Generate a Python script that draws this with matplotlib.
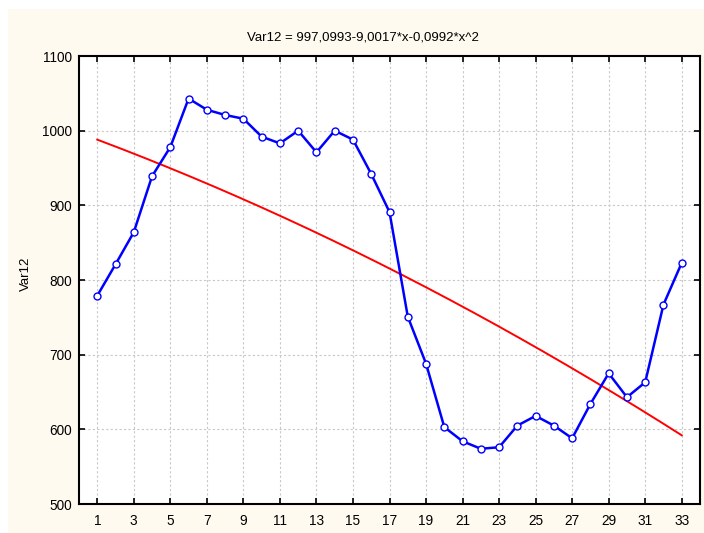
import numpy as np
import matplotlib
matplotlib.use("Agg")
import matplotlib.pyplot as plt
from matplotlib.patches import Rectangle

# ---- data ----
case_numbers = list(range(1, 34))
var12_values = [779, 821, 864, 939, 978, 1043, 1028, 1021, 1016, 992,
                983, 1000, 971, 1000, 988, 942, 891, 751, 688, 603,
                584, 574, 576, 605, 618, 605, 588, 634, 675, 643,
                663, 767, 823]
fit_coeffs = [997.0993, -9.0017, -0.0992]   # a + b*x + c*x^2
x_tick_labels = [str(v) for v in range(1, 34, 2)]
y_ticks = [500, 600, 700, 800, 900, 1000, 1100]
title_text = "Var12 = 997,0993-9,0017*x-0,0992*x^2"
y_label = "Var12"

plt.rcParams['font.family'] = ['Liberation Sans', 'DejaVu Sans']

W, H = 704, 533
fig = plt.figure(figsize=(W / 100, H / 100), dpi=100)
fig.patch.set_facecolor('white')
# cream panel
fig.add_artist(Rectangle((8 / W, 0), 1 - 8 / W, 1 - 9 / H,
                         transform=fig.transFigure, facecolor='#FFFAF0',
                         edgecolor='none', zorder=-10))

ax = fig.add_axes([79 / W, 1 - 504 / H, (700 - 79) / W, (504 - 56) / H])
ax.set_facecolor('white')

xs = np.linspace(case_numbers[0], case_numbers[-1], 200)
fit = fit_coeffs[0] + fit_coeffs[1] * xs + fit_coeffs[2] * xs ** 2
ax.plot(xs, fit, color='#FF0000', lw=1.4, zorder=3)
ax.plot(case_numbers, var12_values, color='#0000FF', lw=1.8,
        marker='o', markersize=5, markerfacecolor='white',
        markeredgecolor='#0000FF', markeredgewidth=1.0, zorder=4)

ax.set_xlim(0, 34)
ax.set_ylim(500, 1100)
ax.set_xticks(list(range(1, 34, 2)))
ax.set_xticklabels(x_tick_labels)
ax.set_yticks(y_ticks)
ax.tick_params(direction='in', length=4, width=1.2, labelsize=9.8,
               top=True, right=True, colors='black')
ax.tick_params(axis='x', pad=7)
ax.tick_params(axis='y', pad=5)
for s in ax.spines.values():
    s.set_linewidth(1.5)
ax.grid(True, color='#C8C8C8', linestyle=(0, (2, 2)), linewidth=0.8)
ax.set_axisbelow(True)

fig.text(363 / W, 1 - 37 / H, title_text, fontsize=9.5,
         ha='center', va='center')
ax.set_ylabel(y_label, fontsize=9.5)
ax.yaxis.set_label_coords((32 - 79) / (700 - 79), (504 - 274) / (504 - 56))

fig.savefig('out.png', dpi=100, facecolor=fig.get_facecolor())
